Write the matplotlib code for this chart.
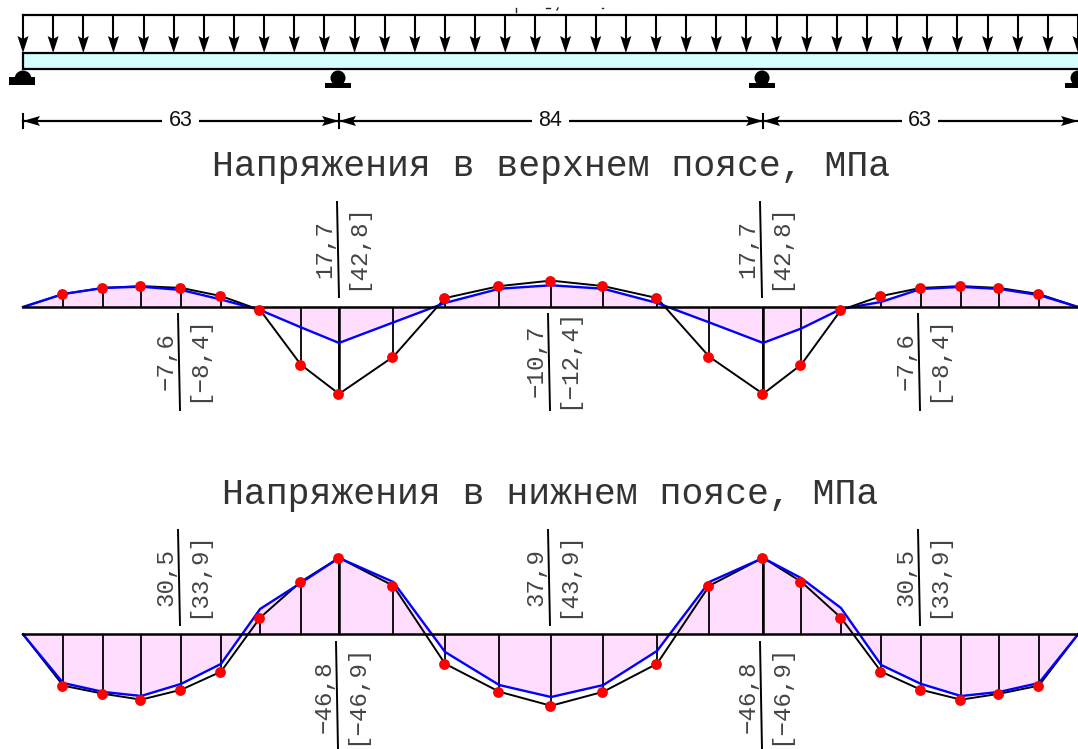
import numpy as np
import matplotlib
matplotlib.use("Agg")
import matplotlib.pyplot as plt
from matplotlib.patches import Polygon, Rectangle, Circle, Wedge

# stations along the bridge, m
stations = np.array([0, 8, 16, 23.5, 31.5, 39.4, 47.2, 55.3, 62.9, 73.7, 84, 94.8, 105.1,
                     115.5, 126.2, 136.6, 147.3, 154.9, 162.8, 170.8, 178.7, 186.7, 194.3, 202.2, 210])
supports = [0, 62.9, 147.3, 210]
spans = ["63", "84", "63"]
load_stations = np.arange(0, 211, 6)

# top chord stresses, MPa
top_total = np.array([0, -6.4, -9.4, -10.3, -9.4, -5.4, 1.5, 28.4, 42.8, 24.5, -4.4, -10.3, -13.0,
                      -10.3, -4.4, 24.5, 42.8, 28.4, 1.5, -5.4, -9.4, -10.3, -9.4, -6.4, 0])
top_live = np.array([0, -6.4, -9.4, -10.0, -8.4, -3.7, 1.5, 10.0, 17.7, 7.6, -2.0, -9.0, -10.7,
                     -9.0, -2.0, 7.6, 17.7, 10.6, 1.0, -2.5, -8.9, -9.9, -8.9, -5.9, 0])

# bottom chord stresses, MPa
bot_total = np.array([0, 25.3, 29.3, 32.2, 27.3, 18.4, -8.2, -25.9, -37.7, -23.9, 14.5, 28.3, 35.2,
                      28.3, 14.5, -23.9, -37.7, -25.9, -8.2, 18.4, 27.3, 32.2, 29.3, 25.3, 0])
bot_live = np.array([0, 24.0, 28.4, 30.4, 24.4, 14.6, -12.5, -25.3, -37.6, -25.8, 8.7, 25.0, 30.9,
                     25.0, 8.2, -25.8, -37.6, -27.7, -13.0, 15.1, 24.4, 30.4, 28.4, 24.0, 0])

titles = ["Напряжения в верхнем поясе, МПа", "Напряжения в нижнем поясе, МПа"]

# value labels: upper text, lower text, x of the divider foot in px
top_labels = [("17,7", "[42,8]", 337, "up"), ("\u22127,6", "[\u22128,4]", 178, "down"),
              ("\u221210,7", "[\u221212,4]", 548, "down"), ("17,7", "[42,8]", 760, "up"),
              ("\u22127,6", "[\u22128,4]", 918, "down")]
bot_labels = [("30,5", "[33,9]", 178, "up"), ("\u221246,8", "[\u221246,9]", 336, "down"),
              ("37,9", "[43,9]", 548, "up"), ("\u221246,8", "[\u221246,9]", 760, "down"),
              ("30,5", "[33,9]", 918, "up")]

W, H = 1078, 749
X0, XS = 23, 5.024      # px of station 0, px per m
YS = 2.03               # px per MPa
pink = "#FFDDFF"
cyan = "#D5FFFF"
grey = "#444444"
mono = "Liberation Mono"

fig = plt.figure(figsize=(W / 100, H / 100), dpi=100)

# pixel overlay for the beam scheme and the labels
ov = fig.add_axes([0, 0, 1, 1])
ov.set_xlim(0, W)
ov.set_ylim(H, 0)
ov.axis("off")


def px(m):
    return X0 + XS * np.asarray(m)


def chord_axes(base):
    ax = fig.add_axes([0, 0, 1, 1])
    ax.patch.set_alpha(0)
    ax.set_xlim(-X0 / XS, (W - X0) / XS)
    ax.set_ylim((H - base) / YS, -base / YS)
    ax.axis("off")
    return ax


def draw_chord(ax, total, live):
    ax.fill_between(stations, 0, live, color=pink, lw=0, zorder=1)
    ax.vlines(stations[1:-1], 0, total[1:-1], color="black", lw=1.3, zorder=2)
    ax.vlines(supports[1:3], 0, [total[8], total[16]], color="black", lw=1.8, zorder=2)
    ax.plot(stations, total, color="black", lw=1.4, zorder=3)
    ax.plot(stations, live, color="#0000FF", lw=1.7, zorder=4)
    ax.plot([stations[0], stations[-1]], [0, 0], color="black", lw=1.8, zorder=4)
    ax.plot(stations[1:-1] - 0.2, total[1:-1], "o", color="#FF0000", ms=7.8, mew=0, zorder=5)


def draw_labels(labels, top, bottom, text_y):
    for upper, lower, xf, side in labels:
        ov.plot([xf, xf + 2], [top[side], bottom[side]], color="black", lw=1.4)
        ov.text(xf - 12, text_y[side] - 1, upper, rotation=90, ha="center", va="center",
                family=mono, fontsize=17.4, color=grey)
        ov.text(xf + 20, text_y[side] - 4, lower, rotation=90, ha="center", va="center",
                family=mono, fontsize=17.4, color=grey)


# beam scheme
ov.add_patch(Rectangle((X0, 53), W - X0 + 5, 16, fc=cyan, ec="black", lw=1.6))
ov.plot([X0, W], [15, 15], color="black", lw=1.6)
for m in load_stations:
    x = px(m)
    ov.plot([x, x], [15, 42], color="black", lw=1.5)
    ov.add_patch(Polygon([(x - 5.5, 36), (x, 39), (x + 5.5, 36), (x, 53)], fc="black", ec="none"))

# clipped remains of a caption above the load line
for xs, ys in [([516, 516], [8, 12]), ([546, 550], [8, 8]), ([557, 558], [10, 8]), ([602, 603], [8, 8])]:
    ov.plot(xs, ys, color="#222222", lw=1.0)

# supports, the y axis of the overlay is flipped so the half disc runs 180-360
ov.add_patch(Rectangle((9, 77), 26, 8, fc="black", ec="none"))
ov.add_patch(Wedge((23, 79), 8.5, 180, 360, fc="black", ec="none"))
for m in supports[1:]:
    x = px(m) - 1 if m < 210 else px(m)
    ov.add_patch(Circle((x, 78), 7.5, fc="black", ec="none"))
    ov.add_patch(Rectangle((x - 13, 83), 26, 4.5, fc="black", ec="none"))

# dimension line
ov.plot([X0, W], [121, 121], color="black", lw=1.6)
for m in supports[:3]:
    x = px(m)
    ov.plot([x, x], [114, 128], color="black", lw=1.5)
for m, sign in [(0, 1), (62.9, -1), (62.9, 1), (147.3, -1), (147.3, 1), (210, -1)]:
    x = px(m)
    ov.add_patch(Polygon([(x, 121), (x + sign * 17, 116), (x + sign * 14, 121), (x + sign * 17, 126)],
                         fc="black", ec="none"))
for (a, b), s in zip(zip(supports[:-1], supports[1:]), spans):
    ov.text(px((a + b) / 2) - 0.5, 121, s, ha="center", va="center", family="Liberation Sans",
            fontsize=15.5, color="#111111", bbox=dict(fc="white", ec="none", pad=4.5))

# chord diagrams
ax_top = chord_axes(307)
draw_chord(ax_top, top_total, top_live)
ax_bot = chord_axes(634.3)
draw_chord(ax_bot, bot_total, bot_live)

ov.text(551, 167, titles[0], ha="center", va="center", family=mono, fontsize=26.3, color="#333333")
ov.text(550, 495, titles[1], ha="center", va="center", family=mono, fontsize=26.3, color="#333333")

draw_labels(top_labels, {"up": 202, "down": 314}, {"up": 297, "down": 410}, {"up": 250, "down": 362})
draw_labels(bot_labels, {"up": 530, "down": 642}, {"up": 625, "down": 749}, {"up": 578, "down": 698})

fig.savefig("out.png", dpi=100)
